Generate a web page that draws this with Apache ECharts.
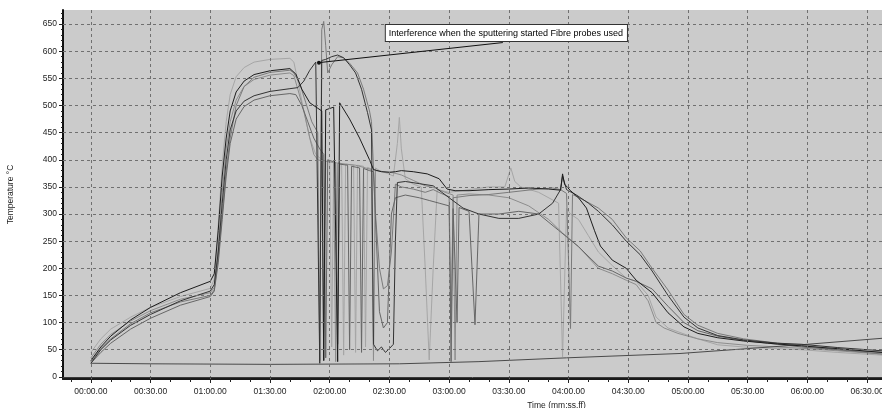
<!DOCTYPE html>
<html>
<head>
<meta charset="utf-8">
<script src="https://cdn.jsdelivr.net/npm/echarts@6/dist/echarts.min.js"></script>
<style>
  html, body { margin: 0; padding: 0; background: #fff; }
  #chart { width: 882px; height: 408px; }
</style>
</head>
<body>
<div id="chart"></div>
<script>
// time in seconds, temperature in °C
const xLabelTicks = [0, 30, 60, 90, 120, 150, 180, 210, 240, 270, 300, 330, 360, 390];
const xMinorTicks = [-10, 0, 10, 20, 30, 40, 50, 60, 70, 80, 90, 100, 110, 120, 130, 140, 150, 160, 170, 180, 190, 200, 210, 220, 230, 240, 250, 260, 270, 280, 290, 300, 310, 320, 330, 340, 350, 360, 370, 380, 390];
const yLabelTicks = [0, 50, 100, 150, 200, 250, 300, 350, 400, 450, 500, 550, 600, 650];
const yMinorTicks = [0, 10, 20, 30, 40, 50, 60, 70, 80, 90, 100, 110, 120, 130, 140, 150, 160, 170, 180, 190, 200, 210, 220, 230, 240, 250, 260, 270, 280, 290, 300, 310, 320, 330, 340, 350, 360, 370, 380, 390, 400, 410, 420, 430, 440, 450, 460, 470, 480, 490, 500, 510, 520, 530, 540, 550, 560, 570, 580, 590, 600, 610, 620, 630, 640, 650, 660, 670];

const ambient = [[0,25],[30,24],[90,23],[155,24],[195,28],[239,35],[296,43],[330,52],[360,60],[397.5,71]];

const probe1 = [[0,30],[5,55],[10,75],[20,105],[30,128],[45,155],[60,176],[62,190],[64,270],[66,370],[68,440],[70,490],[73,525],[77,545],[82,557],[90,564],[100,568],[103,558],[106,530],[110,505],[114,495],[116,490],[117,30],[118,492],[122,497],[124,28],[125,505],[130,475],[135,440],[140,400],[142,382],[146,378],[150,377],[153,378],[156,380],[162,378],[169,374],[175,365],[179,346],[183,343],[190,343],[200,345],[210,346],[220,348],[230,346],[236,344],[237,374],[238,355],[241,343],[245,330],[249,311],[253,270],[256,241],[262,215],[269,200],[274,178],[282,155],[290,118],[298,92],[305,80],[315,72],[328,66],[340,62],[357,57],[375,52],[397.5,45]];

const probe2 = [[0,25],[5,50],[10,68],[20,95],[30,115],[45,140],[60,158],[62,170],[64,230],[66,320],[68,400],[70,455],[73,490],[77,508],[82,518],[90,526],[100,531],[104,533],[107,545],[110,565],[113,580],[114,583],[115,25],[116,583],[118,585],[121,590],[124,593],[127,588],[130,575],[133,560],[136,530],[139,487],[141,455],[142,60],[144,48],[146,55],[148,45],[150,52],[152,60],[153,250],[154,358],[158,360],[165,356],[172,352],[180,330],[187,311],[195,300],[205,292],[215,292],[225,300],[232,320],[236,345],[237,370],[239,345],[244,335],[250,320],[255,305],[262,280],[269,250],[276,225],[282,195],[290,150],[298,110],[305,90],[315,76],[328,68],[345,62],[357,60],[375,54],[397.5,48]];

const probe3 = [[0,28],[5,52],[10,70],[20,98],[30,118],[45,138],[60,150],[62,160],[64,220],[66,300],[68,380],[70,440],[73,500],[77,535],[82,552],[90,561],[100,565],[102,560],[105,540],[108,505],[111,470],[114,450],[115,30],[116,640],[117,655],[118,610],[119,560],[121,575],[124,590],[127,588],[130,578],[134,560],[137,530],[140,490],[141,470],[143,300],[145,200],[147,162],[149,168],[151,230],[153,355],[156,350],[162,346],[168,340],[172,345],[176,338],[180,332],[181,90],[182,330],[190,334],[200,336],[210,340],[222,345],[232,348],[236,345],[239,338],[240,340],[241,89],[242,336],[248,325],[255,311],[262,290],[269,256],[276,232],[282,200],[290,160],[298,115],[305,95],[315,80],[328,70],[345,62],[357,58],[375,50],[397.5,42]];

const probe4 = [[0,45],[5,70],[10,88],[20,110],[30,128],[45,148],[60,163],[62,180],[64,280],[66,390],[68,470],[70,520],[73,553],[77,570],[82,580],[90,585],[100,587],[102,580],[104,545],[107,490],[110,440],[113,410],[116,400],[118,398],[120,396],[121,55],[122,395],[126,393],[127,40],[128,392],[132,390],[133,45],[134,390],[137,388],[138,55],[139,386],[141,383],[142,50],[143,385],[145,380],[149,375],[152,370],[154,430],[155,478],[156,420],[158,365],[162,355],[166,350],[168,200],[170,31],[172,200],[174,345],[180,340],[190,345],[200,350],[208,350],[211,385],[213,360],[216,350],[225,340],[235,320],[237,37],[239,310],[241,300],[245,290],[250,260],[255,230],[262,205],[269,182],[274,176],[280,150],[284,110],[290,90],[295,83],[305,70],[315,59],[328,55],[345,52],[357,50],[375,45],[397.5,40]];

const probe5 = [[0,25],[5,45],[10,62],[20,88],[30,108],[45,132],[60,148],[62,158],[64,210],[66,290],[68,370],[70,430],[73,475],[77,498],[82,510],[90,518],[100,522],[103,520],[106,500],[109,470],[112,440],[115,420],[117,410],[118,35],[119,400],[123,395],[124,60],[125,392],[129,390],[130,50],[131,388],[135,385],[136,45],[137,384],[140,380],[142,378],[145,120],[147,90],[149,100],[151,300],[153,330],[158,335],[165,330],[170,325],[175,320],[180,315],[181,28],[182,310],[184,100],[185,312],[190,305],[193,96],[195,300],[205,300],[215,305],[225,300],[235,270],[245,240],[255,204],[262,195],[269,182],[274,176],[282,162],[290,130],[298,100],[305,85],[315,75],[328,67],[345,60],[357,55],[375,50],[397.5,45]];

const probe6 = [[0,35],[5,60],[10,78],[20,103],[30,122],[45,143],[60,155],[62,165],[64,240],[66,340],[68,420],[70,470],[73,510],[77,535],[82,548],[90,556],[100,560],[102,555],[104,530],[107,490],[110,440],[112,410],[114,400],[116,398],[117,30],[118,397],[122,395],[123,28],[124,394],[128,392],[133,390],[138,385],[141,382],[142,30],[143,380],[147,378],[152,376],[156,372],[162,362],[168,352],[173,348],[178,340],[182,335],[183,31],[184,335],[190,337],[200,335],[210,330],[220,315],[230,290],[237,265],[245,240],[255,200],[262,190],[269,178],[274,170],[280,140],[284,100],[288,90],[295,80],[305,70],[315,63],[330,58],[345,55],[360,52],[375,48],[397.5,42]];

const note = 'Interference when the sputtering started Fibre probes used';
const noteAnchor = [114.6, 579];
const noteBoxCorner = [148.2, 648.5];
const noteLineStart = [207, 616];

function fmtTime(v) {
  const m = Math.floor(v / 60);
  const s = v - m * 60;
  return String(m).padStart(2, '0') + ':' + String(s).padStart(2, '0') + '.00';
}

let myChart = echarts.init(document.getElementById('chart'));

function probeSeries(name, data, color) {
  return {
    name: name,
    type: 'line',
    data: data,
    showSymbol: false,
    lineStyle: { color: color, width: 1 },
    z: 3,
  };
}

myChart.setOption({
  animation: false,
  backgroundColor: '#ffffff',
  textStyle: { fontFamily: 'Liberation Sans, Arial, sans-serif' },
  grid: {
    left: 63,
    right: 0,
    top: 10,
    bottom: 29,
    show: true,
    backgroundColor: '#cbcbcb',
    borderWidth: 0,
    outerBoundsMode: 'none',
  },
  xAxis: [
    {
      type: 'value',
      min: -14,
      max: 397.5,
      position: 'bottom',
      name: 'Time (mm:ss.ff)',
      nameLocation: 'middle',
      nameGap: 21,
      nameTextStyle: { fontSize: 8.5, color: '#222', padding: [0, 0, 0, 168] },
      axisLine: { show: true, onZero: false, lineStyle: { color: '#1a1a1a', width: 2 } },
      axisTick: { show: true, customValues: xLabelTicks, length: 4, lineStyle: { color: '#222' } },
      axisLabel: {
        customValues: xLabelTicks,
        formatter: fmtTime,
        fontSize: 8.5,
        color: '#222',
        margin: 8,
      },
      splitLine: { show: false },
    },
    {
      type: 'value',
      min: -14,
      max: 397.5,
      position: 'bottom',
      axisLine: { show: false, onZero: false },
      axisTick: { show: true, customValues: xMinorTicks, length: 3, lineStyle: { color: '#222' } },
      axisLabel: { show: false },
      splitLine: { show: false },
    },
  ],
  yAxis: [
    {
      type: 'value',
      min: -4,
      max: 676,
      position: 'left',
      name: 'Temperature °C',
      nameLocation: 'middle',
      nameGap: 48,
      nameRotate: 90,
      nameTextStyle: { fontSize: 8.5, color: '#222' },
      axisLine: { show: true, onZero: false, lineStyle: { color: '#111', width: 2 } },
      axisTick: { show: true, customValues: yLabelTicks, length: 4, lineStyle: { color: '#222' } },
      axisLabel: { customValues: yLabelTicks, fontSize: 8.5, color: '#222', margin: 6 },
      splitLine: { show: false },
    },
    {
      type: 'value',
      min: -4,
      max: 676,
      position: 'left',
      axisLine: { show: false, onZero: false },
      axisTick: { show: true, customValues: yMinorTicks, length: 2, lineStyle: { color: '#222' } },
      axisLabel: { show: false },
      splitLine: { show: false },
    },
  ],
  series: [
    {
      // dashed grid drawn through the axes
      name: 'grid',
      type: 'line',
      data: [],
      silent: true,
      z: 1,
      markLine: {
        silent: true,
        symbol: 'none',
        label: { show: false },
        lineStyle: { color: '#707070', type: [3, 3], width: 1 },
        data: xLabelTicks.map((v) => ({ xAxis: v }))
          .concat(yLabelTicks.filter((v) => v > 0).map((v) => ({ yAxis: v })))
          .concat([{ yAxis: 0, lineStyle: { color: '#3a3a3a', type: 'solid', width: 1 } }]),
      },
    },
    probeSeries('probe4', probe4, '#a6a6a6'),
    probeSeries('probe6', probe6, '#8c8c8c'),
    probeSeries('probe3', probe3, '#7a7a7a'),
    probeSeries('probe5', probe5, '#666666'),
    probeSeries('ambient', ambient, '#4a4a4a'),
    probeSeries('probe2', probe2, '#333333'),
    probeSeries('probe1', probe1, '#1c1c1c'),
  ],
});

// callout box and leader line
const pAnchor = myChart.convertToPixel({ gridIndex: 0 }, noteAnchor);
const pBox = myChart.convertToPixel({ gridIndex: 0 }, noteBoxCorner);
const pStart = myChart.convertToPixel({ gridIndex: 0 }, noteLineStart);
myChart.setOption({
  graphic: [
    {
      type: 'line',
      shape: { x1: pStart[0], y1: pStart[1], x2: pAnchor[0], y2: pAnchor[1] },
      style: { stroke: '#111', lineWidth: 1 },
      z: 10,
    },
    {
      type: 'circle',
      shape: { cx: pAnchor[0], cy: pAnchor[1], r: 2 },
      style: { fill: '#111' },
      z: 10,
    },
    {
      type: 'text',
      x: pBox[0],
      y: pBox[1],
      z: 11,
      style: {
        text: note,
        fontSize: 9,
        fontFamily: 'Liberation Sans, Arial, sans-serif',
        fill: '#000',
        backgroundColor: '#fff',
        borderColor: '#333',
        borderWidth: 1,
        padding: [4, 4, 3, 3],
      },
    },
  ],
});

window.addEventListener('resize', function () {
  myChart.resize();
});
</script>
</body>
</html>
